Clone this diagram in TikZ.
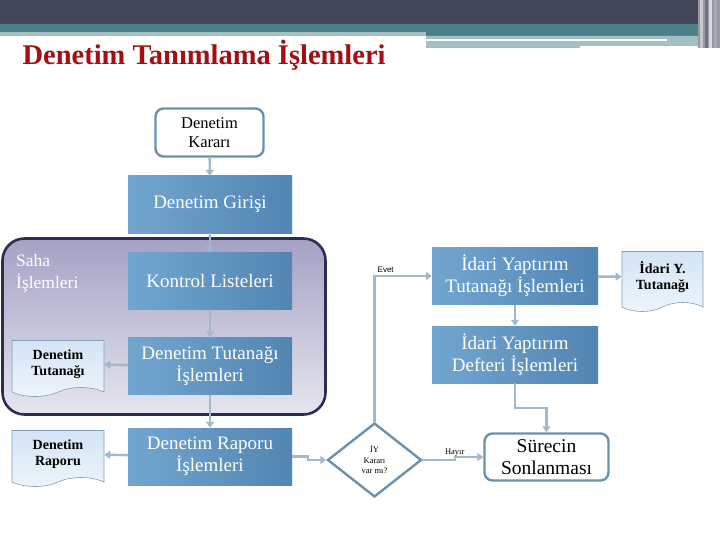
\documentclass[tikz,border=0pt]{standalone}
\usepackage{fontspec}
\setmainfont{Liberation Serif}
\newfontfamily\lblsans{Liberation Sans}
\usetikzlibrary{arrows.meta,shapes,positioning}

\definecolor{bandDark}{HTML}{434559}
\definecolor{bandTeal}{HTML}{4A8188}
\definecolor{bandLight}{HTML}{A3BFC2}
\definecolor{titleRed}{HTML}{A50E12}
\definecolor{procL}{HTML}{72A6CF}
\definecolor{procR}{HTML}{5285B2}
\definecolor{edgeBlue}{HTML}{6A91AD}
\definecolor{connC}{HTML}{A3B9CA}
\definecolor{docTop}{HTML}{D4E5F6}
\definecolor{docBot}{HTML}{EDF4FB}
\definecolor{docEdge}{HTML}{7F9FBA}
\definecolor{sahaTop}{HTML}{A4A1C4}
\definecolor{sahaBot}{HTML}{E6E6EF}
\definecolor{sahaEdge}{HTML}{2C2D52}

\tikzset{
  proc/.style={rectangle, left color=procL, right color=procR, text=white,
    minimum width=164, minimum height=57, align=center, inner sep=2,
    font=\fontsize{19}{22}\selectfont},
  endbox/.style={rectangle, rounded corners=8, draw=edgeBlue, line width=2.4,
    fill=white, align=center, text=black},
  doc/.style={tape, tape bend top=none, tape bend bottom=in and out,
    tape bend height=9, draw=docEdge, line width=0.6, top color=docTop,
    bottom color=docBot, minimum width=92, minimum height=56, align=center,
    font=\bfseries\fontsize{14}{16}\selectfont},
  conn/.style={draw=connC, line width=2.4, -{Triangle[width=8,length=6]}},
  decide/.style={diamond, draw=edgeBlue, line width=2.4, fill=white,
    minimum width=94, minimum height=74, inner sep=0, align=center,
    font=\fontsize{8.5}{10.5}\selectfont},
  lbl/.style={font=\fontsize{8.5}{10}\selectfont, inner sep=2}
}

\begin{document}
\begin{tikzpicture}[x=1pt,y=-1pt]
\useasboundingbox (0,0) rectangle (720,540);
% banner
\fill[bandDark] (0,0) rectangle (720,24);
\fill[bandTeal] (0,24) rectangle (720,32) (426,32) rectangle (698,36);
\fill[bandLight] (0,32) rectangle (426,36);
\fill[bandLight] (426,36) rectangle (667,39) (426,41) rectangle (580,48)
  (580,41) rectangle (667,46) (667,36) rectangle (698,46);
\fill[white] (426,39) rectangle (667,41);
\fill[bandDark!55] (698,0) rectangle (720,48);
\foreach \xs/\c in {700/bandDark!30,705/bandDark!75,709/bandDark!20,714/bandDark!45}
  \fill[\c] (\xs,0) rectangle ++(2.5,48);
\node[anchor=west, text=titleRed, font=\bfseries\fontsize{28.5}{32}\selectfont]
  (title) at (19,55) {Denetim Tanımlama İşlemleri};

% saha group
\node[rectangle, rounded corners=22, draw=sahaEdge, line width=2.6,
  top color=sahaTop, bottom color=sahaBot, minimum width=323, minimum height=176]
  (saha) at (164,326.5) {};
\node[anchor=north west, align=left, text=white, inner sep=0,
  font=\fontsize{17.5}{22}\selectfont] (sahalbl) at (16,254) {Saha\\İşlemleri};

% main flow
\node[endbox, minimum width=108, minimum height=48, font=\fontsize{16.5}{19}\selectfont]
  (karar) at (209.5,132.5) {Denetim\\Kararı};
\node[proc] (giris) at (210,204.5) {Denetim Girişi};
\node[proc] (kontrol) at (210,281) {Kontrol Listeleri};
\node[proc] (tutislem) at (210,366) {Denetim Tutanağı\\İşlemleri};
\node[proc] (rapislem) at (210,456.5) {Denetim Raporu\\İşlemleri};
\node[doc] (dtut) at (58,364) {Denetim\\Tutanağı};
\node[doc] (drap) at (58,454) {Denetim\\Raporu};
\node[decide] (iykarar) at (374.5,460) {İY\\Kararı\\var mı?};
\node[proc, minimum width=166] (iytut) at (515,276) {İdari Yaptırım\\Tutanağı İşlemleri};
\node[proc, minimum width=166] (iydef) at (515,354.5) {İdari Yaptırım\\Defteri İşlemleri};
\node[doc, minimum width=81, minimum height=60] (iydoc) at (662.5,277) {İdari Y.\\Tutanağı};
\node[endbox, minimum width=124, minimum height=47, font=\fontsize{19.5}{22}\selectfont]
  (surec) at (546.5,457) {Sürecin\\Sonlanması};

% connectors
\draw[conn] (karar) -- (giris);
\draw[conn] (giris) -- (kontrol);
\draw[conn] (kontrol) -- (tutislem);
\draw[conn] (tutislem) -- (rapislem);
\draw[conn] (tutislem) -- (dtut);
\draw[conn] (rapislem) -- (drap);
\draw[conn] (rapislem.east) -- ++(16,0) |- (iykarar.west);
\draw[conn] (iykarar.north) |- node[lbl, pos=0.5, above right, font=\lblsans\fontsize{8}{10}\selectfont] (evet) {Evet} (iytut.west);
\draw[conn] (iykarar.east) -- ++(32,0) node[lbl, above] (hayir) {Hayır} |- (surec.west);
\draw[conn] (iytut) -- (iydef);
\draw[conn] (iytut) -- (iydoc);
\draw[conn] (iydef.south) -- ++(0,25) -| (surec.north);
\end{tikzpicture}
\end{document}
